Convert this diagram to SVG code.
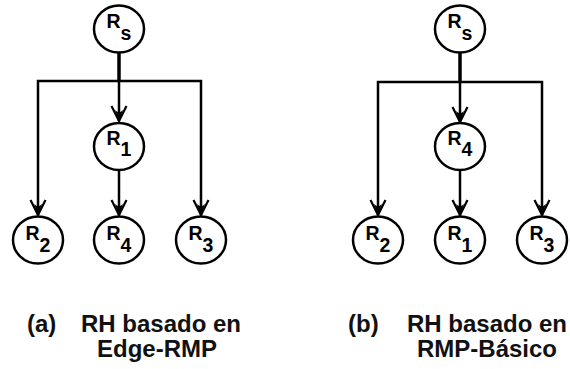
<svg xmlns="http://www.w3.org/2000/svg" width="570" height="369" viewBox="0 0 570 369">
  <style>
    .node ellipse { fill: #ffffff; stroke: #000000; stroke-width: 2.5; }
    .node text { font-family: "Liberation Sans", Arial, sans-serif; font-weight: bold; font-size: 19.5px; fill: #000000; text-anchor: middle; }
    .wire { fill: none; stroke: #000000; stroke-width: 2.5; stroke-linejoin: miter; }
    .stem { fill: none; stroke: #000000; stroke-width: 3.5; }
    .caption { font-family: "Liberation Sans", Arial, sans-serif; font-weight: bold; font-size: 24px; fill: #111111; }
  </style>
  <defs>
    <marker id="arrow" markerUnits="userSpaceOnUse" orient="auto" refX="0" refY="0" markerWidth="20" markerHeight="20" overflow="visible">
      <path d="M-15,-7.5 L0,0 L-15,7.5" fill="none" stroke="#000000" stroke-width="2.2" stroke-linejoin="miter"/>
      <path d="M-11,-4 L0,0 L-11,4 L-8,0 Z" fill="#000000"/>
    </marker>
  </defs>

  <rect x="0" y="0" width="570" height="369" fill="#ffffff"/>

  <!-- connectors -->
  <g id="connectors">
    <!-- tree (a) -->
    <line class="stem" x1="119" y1="52" x2="119" y2="82"/>
    <path class="wire" d="M120,81 H38 V215" marker-end="url(#arrow)"/>
    <path class="wire" d="M118,81 H201 V215" marker-end="url(#arrow)"/>
    <path class="wire" d="M119,81 V121" marker-end="url(#arrow)"/>
    <path class="wire" d="M119,170 V215" marker-end="url(#arrow)"/>
    <!-- tree (b) -->
    <line class="stem" x1="460" y1="52" x2="460" y2="83"/>
    <path class="wire" d="M461,82 H378 V215" marker-end="url(#arrow)"/>
    <path class="wire" d="M459,82 H542 V215" marker-end="url(#arrow)"/>
    <path class="wire" d="M460,82 V122" marker-end="url(#arrow)"/>
    <path class="wire" d="M460,170 V215" marker-end="url(#arrow)"/>
  </g>

  <!-- tree (a) nodes -->
  <g id="a-Rs" class="node">
    <ellipse cx="119" cy="29" rx="25" ry="23.5"/>
    <text x="119" y="28">R<tspan dy="12">s</tspan></text>
  </g>
  <g id="a-R1" class="node">
    <ellipse cx="119" cy="146.5" rx="25" ry="23.5"/>
    <text x="119" y="144.5">R<tspan dy="11.5">1</tspan></text>
  </g>
  <g id="a-R2" class="node">
    <ellipse cx="38" cy="240" rx="25" ry="23.5"/>
    <text x="38" y="239.5">R<tspan dy="12.5">2</tspan></text>
  </g>
  <g id="a-R4" class="node">
    <ellipse cx="119" cy="240" rx="25" ry="23.5"/>
    <text x="119" y="239.5">R<tspan dy="12.5">4</tspan></text>
  </g>
  <g id="a-R3" class="node">
    <ellipse cx="201" cy="240" rx="25" ry="23.5"/>
    <text x="201" y="239.5">R<tspan dy="12.5">3</tspan></text>
  </g>

  <!-- tree (b) nodes -->
  <g id="b-Rs" class="node">
    <ellipse cx="460" cy="29" rx="25" ry="23.5"/>
    <text x="460" y="28">R<tspan dy="12">s</tspan></text>
  </g>
  <g id="b-R4" class="node">
    <ellipse cx="460" cy="146.5" rx="25" ry="23.5"/>
    <text x="460" y="144.5">R<tspan dy="11.5">4</tspan></text>
  </g>
  <g id="b-R2" class="node">
    <ellipse cx="378" cy="240" rx="25" ry="23.5"/>
    <text x="378" y="239.5">R<tspan dy="12.5">2</tspan></text>
  </g>
  <g id="b-R1" class="node">
    <ellipse cx="460" cy="240" rx="25" ry="23.5"/>
    <text x="460" y="239.5">R<tspan dy="12.5">1</tspan></text>
  </g>
  <g id="b-R3" class="node">
    <ellipse cx="542" cy="240" rx="25" ry="23.5"/>
    <text x="542" y="239.5">R<tspan dy="12.5">3</tspan></text>
  </g>

  <!-- captions -->
  <g id="captions">
    <text class="caption" x="27" y="332">(a)</text>
    <text class="caption" x="161" y="332" text-anchor="middle">RH basado en</text>
    <text class="caption" x="157" y="357" text-anchor="middle">Edge-RMP</text>
    <text class="caption" x="348" y="332">(b)</text>
    <text class="caption" x="487" y="332" text-anchor="middle">RH basado en</text>
    <text class="caption" x="487" y="357" text-anchor="middle">RMP-Básico</text>
  </g>
</svg>
